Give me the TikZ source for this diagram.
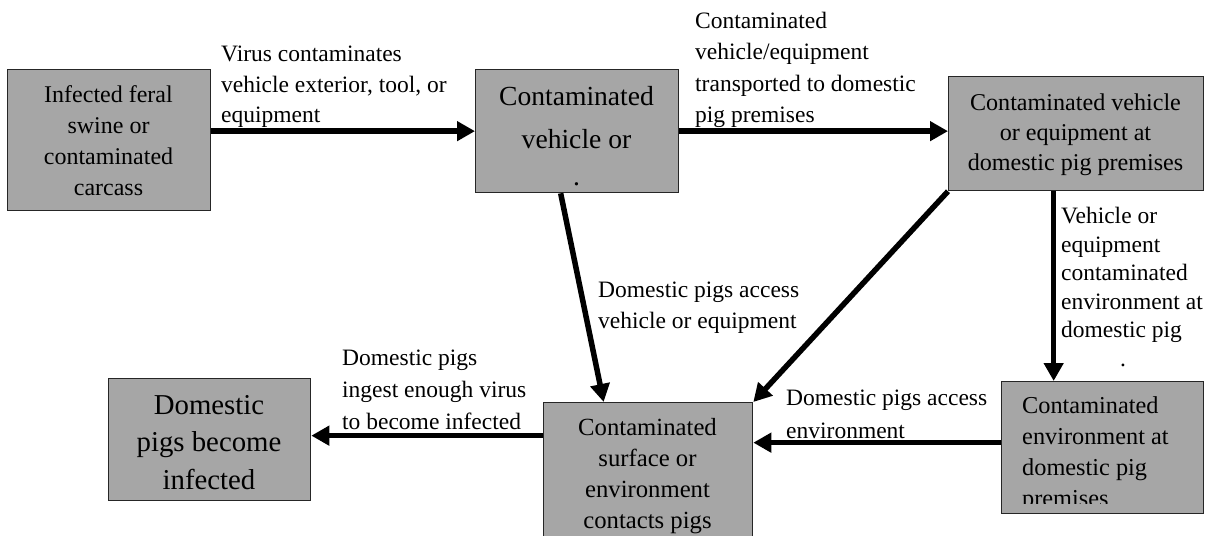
\documentclass[tikz,border=0pt]{standalone}
\usepackage{fontspec}
\setmainfont{Liberation Serif}
\usetikzlibrary{arrows.meta,calc}
\definecolor{boxfill}{HTML}{A6A6A6}
\definecolor{boxline}{HTML}{262626}
\begin{document}
\begin{tikzpicture}[x=1pt,y=-1pt,
  box/.style={draw=boxline,fill=boxfill,line width=1.3pt,inner sep=0pt,anchor=north west},
  arr/.style={line width=5.5pt,-{Triangle[length=18pt,width=19pt]}},
  lbl/.style={anchor=north west,inner sep=0pt,align=left,font=\fontsize{23.5}{31}\selectfont},
  bt/.style={anchor=north,inner sep=0pt,align=center}
  ]
\useasboundingbox (0,0) rectangle (1217,535);
\clip (0,0) rectangle (1217,535);
% boxes
\node[box,minimum width=203pt,minimum height=141pt] (A) at (7,69) {};
\node[box,minimum width=203pt,minimum height=123pt] (B) at (475,69) {};
\node[box,minimum width=255pt,minimum height=114pt] (C) at (948,76) {};
\node[box,minimum width=202pt,minimum height=132pt] (D) at (1001,381) {};
\node[box,minimum width=209pt,minimum height=150pt] (E) at (543,402) {};
\node[box,minimum width=202pt,minimum height=122pt] (F) at (108,378) {};
% box texts
\node[bt,font=\fontsize{24}{31}\selectfont] (tA) at (108.5,85.6) {Infected feral\\swine or\\contaminated\\carcass};
\node[bt,font=\fontsize{27.6}{43}\selectfont] (tB) at (576.5,86) {Contaminated\\vehicle or\\[-6pt].};
\node[bt,font=\fontsize{24.1}{30}\selectfont] (tC) at (1075.5,93.5) {Contaminated vehicle\\or equipment at\\domestic pig premises};
\begin{scope}
\clip (1001,381) rectangle (1203,503);
\node[anchor=north west,inner sep=0pt,align=left,font=\fontsize{24.3}{31}\selectfont] (tD) at (1022,396.4) {Contaminated\\environment at\\domestic pig\\premises};
\end{scope}
\node[bt,font=\fontsize{24.7}{31}\selectfont] (tE) at (647.5,418) {Contaminated\\surface or\\environment\\contacts pigs};
\node[bt,font=\fontsize{28.8}{37.5}\selectfont] (tF) at (209,395) {Domestic\\pigs become\\infected};
% connectors
\draw[arr] (A.east |- B.west) -- (B.west);
\draw[arr] (B.east) -- (B.east -| C.west);
\draw[arr] ([xshift=-16.5pt]B.south) -- ([xshift=-44.5pt]E.north);
\draw[arr] (C.south west) -- (E.north east);
\draw[arr] ([xshift=-22.5pt]C.south) -- ([xshift=-22.5pt]C.south |- D.north);
\draw[arr] ([yshift=5pt]D.west) -- ([yshift=5pt]D.west -| E.east);
\draw[arr] ([yshift=4pt]F.east -| E.west) -- ([yshift=4pt]F.east);
% labels
\node[lbl,font=\fontsize{23.5}{30.5}\selectfont] (l1) at (221,46) {Virus contaminates\\vehicle exterior, tool, or\\equipment};
\node[lbl,font=\fontsize{23.5}{31.3}\selectfont] (l2) at (695,12) {Contaminated\\vehicle/equipment\\transported to domestic\\pig premises};
\node[lbl,font=\fontsize{23.5}{28.5}\selectfont] (l3) at (1061,207) {Vehicle or\\equipment\\contaminated\\environment at\\domestic pig\\\hspace*{59pt}.};
\node[lbl] (l4) at (598,282) {Domestic pigs access\\vehicle or equipment};
\node[lbl,font=\fontsize{23.5}{32}\selectfont] (l5) at (342,350) {Domestic pigs\\ingest enough virus\\to become infected};
\node[lbl,font=\fontsize{23.5}{33}\selectfont] (l6) at (786,390) {Domestic pigs access\\environment};
\end{tikzpicture}
\end{document}
